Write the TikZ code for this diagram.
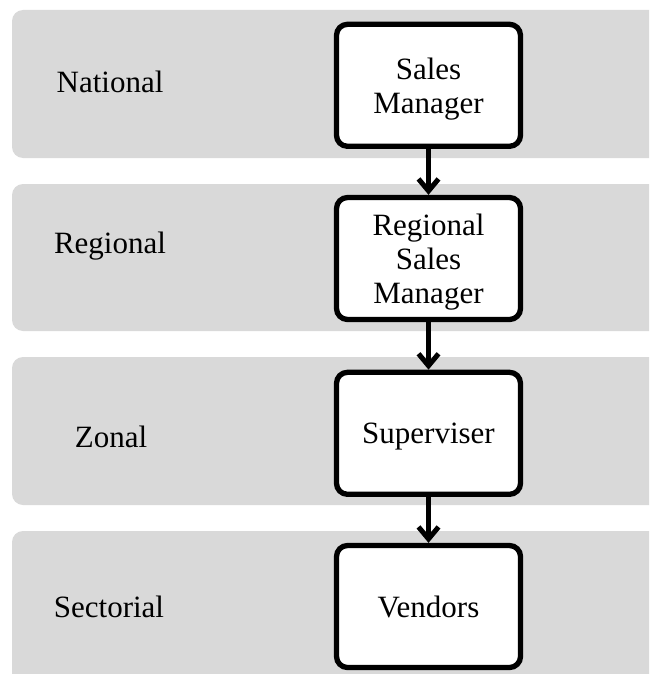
\documentclass[tikz,border=0pt]{standalone}
\usepackage{fontspec}
\setmainfont{Liberation Serif}
\usetikzlibrary{arrows.meta}
\definecolor{band}{RGB}{217,217,217}
\tikzset{
  bandbox/.style={fill=band, draw=none, rounded corners=11pt},
  rolebox/.style={draw=black, fill=white, line width=5.3pt, rounded corners=11pt,
    minimum width=184pt, minimum height=122pt, align=center, inner sep=0pt,
    text depth=0pt, font=\fontsize{31}{34}\selectfont},
  levellabel/.style={font=\fontsize{31}{34}\selectfont, inner sep=0pt},
  flow/.style={line width=5pt, -{Straight Barb[length=12pt,width=20pt,line width=5pt]}}
}
\begin{document}
\begin{tikzpicture}[x=1pt,y=-1pt]
\useasboundingbox (0,0) rectangle (649,674);
\clip (0,0) rectangle (649,674);
\fill[bandbox] (12,10) rectangle (700,158);
\fill[bandbox] (12,184) rectangle (700,331);
\fill[bandbox] (12,357) rectangle (700,505);
\fill[bandbox] (12,531) rectangle (700,720);

\node[levellabel, anchor=base] (lnat) at (110,93) {National};
\node[levellabel, anchor=base] (lreg) at (110,253) {Regional};
\node[levellabel, anchor=base] (lzon) at (111,447) {Zonal};
\node[levellabel, anchor=base] (lsec) at (109,617) {Sectorial};

\node[rolebox] (sm) at (428.5,85.3) {Sales\\Manager};
\node[rolebox] (rsm) at (428.5,258.5) {Regional\\Sales\\Manager};
\node[rolebox] (sup) at (428.5,433.3) {Superviser};
\node[rolebox] (ven) at (428.5,606.5) {Vendors};

\draw[flow] (sm.south) -- (rsm.north);
\draw[flow] (rsm.south) -- (sup.north);
\draw[flow] (sup.south) -- (ven.north);
\end{tikzpicture}
\end{document}
